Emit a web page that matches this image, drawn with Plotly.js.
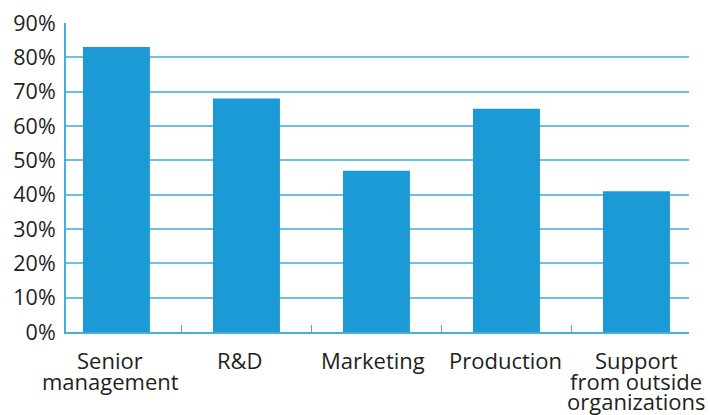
<!DOCTYPE html>
<html>
<head>
<meta charset="utf-8">
<script src="https://cdn.plot.ly/plotly-3.0.1.min.js"></script>
<style>html,body{margin:0;padding:0;background:#fff;}#chart{width:710px;height:415px;}</style>
</head>
<body>
<div id="chart"></div>
<script>
const categories = ["Senior<br>management", "R&D", "Marketing", "Production", "Support<br>from outside<br>organizations"];
const values = [83, 68, 47, 65, 41];
const yTickVals = [0, 10, 20, 30, 40, 50, 60, 70, 80, 90];
const yTickText = ["0%", "10%", "20%", "30%", "40%", "50%", "60%", "70%", "80%", "90%"];

// small horizontal nudges of the category labels (pixels), as in the reference
const labelNudge = [-6, -6, -3, -1, 0];

const barColor = "#1b9ad6";
const lineColor = "#45aee0";
const gridColor = "#6cc0e8";
const textColor = "#231f20";

// category labels drawn line by line for tight line spacing
const annotations = [];
categories.forEach((cat, i) => {
  cat.split("<br>").forEach((line, j) => {
    annotations.push({
      x: i, xref: "x", y: 0, yref: "paper",
      text: line.replace("&", "&amp;"), showarrow: false,
      xanchor: "center", yanchor: "middle",
      xshift: labelNudge[i],
      yshift: -(28 + 20.5 * j),
      borderpad: 0,
      font: {family: "Open Sans, sans-serif", size: 22, color: textColor}
    });
  });
});

Plotly.newPlot("chart", [{
  type: "bar",
  x: categories.map((c, i) => i),
  y: values,
  width: 0.515,
  marker: {color: barColor},
  hoverinfo: "skip"
}], {
  width: 710, height: 415,
  margin: {l: 66, r: 21, t: 23, b: 83},
  paper_bgcolor: "#fff", plot_bgcolor: "#fff",
  font: {family: "Open Sans, sans-serif", size: 20, color: textColor},
  showlegend: false,
  annotations: annotations,
  xaxis: {
    type: "linear",
    range: [-0.388, 4.404],
    showgrid: false,
    showline: true, linecolor: lineColor, linewidth: 2,
    ticks: "inside", tickvals: [0.5, 1.5, 2.5, 3.5, 4.4], ticklen: 7, tickcolor: lineColor, tickwidth: 1.5,
    showticklabels: false,
    zeroline: false
  },
  yaxis: {
    range: [0, 90],
    tickvals: yTickVals, ticktext: yTickText,
    showgrid: true, gridcolor: gridColor, gridwidth: 2,
    showline: true, linecolor: lineColor, linewidth: 2,
    ticks: "", tickfont: {size: 21.5, color: textColor},
    ticklabelstandoff: 4,
    zeroline: false
  }
}, {staticPlot: true, displayModeBar: false});
</script>
</body>
</html>
